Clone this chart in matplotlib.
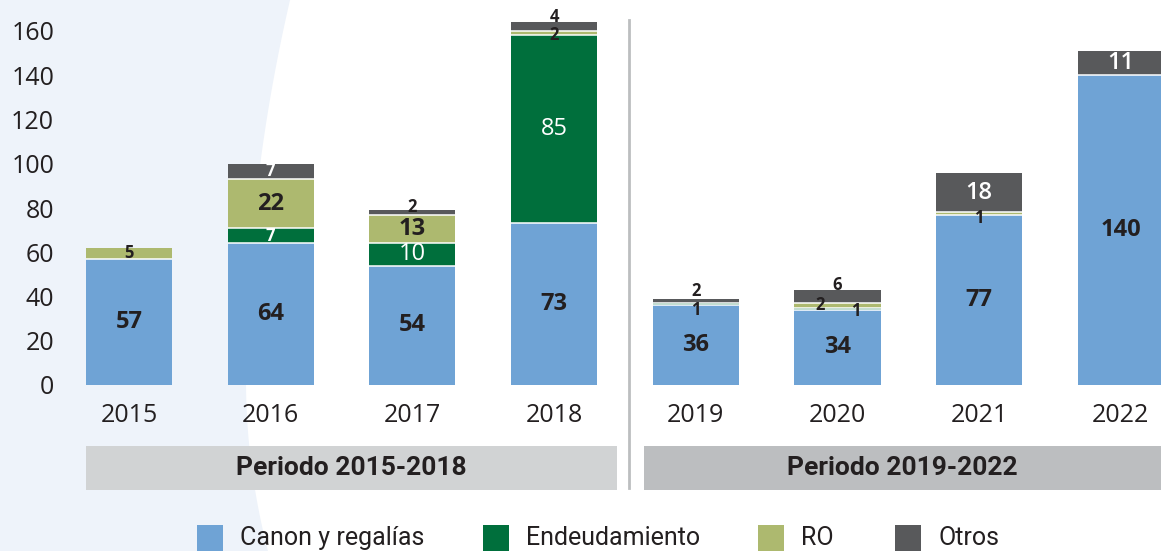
import matplotlib.pyplot as plt
import numpy as np
from matplotlib.patches import Rectangle, Polygon
from matplotlib import font_manager

years = ["2015", "2016", "2017", "2018", "2019", "2020", "2021", "2022"]
canon = [57, 64, 54, 73, 36, 34, 77, 140]
endeud = [0, 7, 10, 85, 1, 1, 0, 0]
ro = [5, 22, 13, 2, 0, 2, 1, 0]
otros = [0, 7, 2, 4, 2, 6, 18, 11]

periods = ["Periodo 2015-2018", "Periodo 2019-2022"]
legend_names = ["Canon y regalías", "Endeudamiento", "RO", "Otros"]
colors = ["#6fa3d5", "#006f3c", "#adb96f", "#58595b"]

# fonts
names = {f.name for f in font_manager.fontManager.ttflist}
narrow = "Liberation Sans Narrow" if "Liberation Sans Narrow" in names else "Roboto"
base = "Open Sans"
dark = "#231f20"

W, H = 1161, 551
fig = plt.figure(figsize=(W / 100, H / 100), dpi=100)

def fx(px):
    return px / W

def fy(py):
    return 1 - py / H

# light blue background on the left, curved edge
yy = np.linspace(0, H, 60)
xx = np.where(yy < 380, 246 + 3.05e-4 * (yy - 380) ** 2, 246 + 7.5e-4 * (yy - 380) ** 2)
pts = [(0, 1)] + [(fx(a), fy(b)) for a, b in zip(xx, yy)] + [(0, 0)]
fig.patches.append(Polygon(pts, closed=True, transform=fig.transFigure,
                           facecolor="#eef3fa", edgecolor="none", zorder=-2))

# axes: bar i centered at pixel 129 + i*141.7, value 0 at y=385, 2.2125 px/unit
step = 141.7
ax = fig.add_axes([0, 166 / H, 1, 385 / H])
ax.set_facecolor("none")
ax.set_xlim(-129 / step, (W - 129) / step)
ax.set_ylim(0, 385 / 2.2125)

width = 0.607
x = np.arange(len(years))
series = [canon, endeud, ro, otros]
bottom = np.zeros(len(years))
bars = []
for vals, col in zip(series, colors):
    vals = np.array(vals)
    ax.bar(x, vals, width, bottom=bottom, color=col, edgecolor="none", zorder=2)
    bars.append((vals, bottom.copy()))
    bottom = bottom + vals

# white gaps between stacked segments
for s in range(1, len(bars)):
    vals, bots = bars[s]
    for i in range(len(years)):
        if vals[i] > 0:
            ax.hlines(bots[i], x[i] - width / 2, x[i] + width / 2, color="white",
                      linewidth=1.1, zorder=3)

# value labels
inside_color = [dark, "white", dark, "white"]
inside_weight = ["bold", "normal", "bold", "semibold"]
# small segments, key (series, year index): (dx px, dy px)
special = {
    (2, 0): (0, 0),      # 2015 RO
    (3, 2): (0, 5),      # 2017 Otros
    (3, 3): (0, 10),     # 2018 Otros
    (2, 3): (0, -2),     # 2018 RO
    (3, 4): (0, 10),     # 2019 Otros
    (1, 4): (0, -6),     # 2019 End
    (3, 5): (0, 11),     # 2020 Otros
    (2, 5): (-17, 0),    # 2020 RO
    (1, 5): (18, -2),    # 2020 End
    (2, 6): (0, -4),     # 2021 RO
}
for s, (vals, bots) in enumerate(bars):
    for i in range(len(years)):
        v = vals[i]
        if v == 0:
            continue
        yc = bots[i] + v / 2
        if (s, i) in special:
            dx, dy = special[(s, i)]
            ax.annotate(str(v), (x[i], yc), xytext=(dx, dy), textcoords="offset pixels",
                        ha="center", va="center", color=dark, fontsize=12,
                        fontweight="bold", family=base, zorder=5)
        else:
            fs = 17 if v >= 9 else 12
            w = inside_weight[s] if v >= 9 else "bold"
            ax.text(x[i], yc, str(v), ha="center", va="center",
                    color=inside_color[s], fontsize=fs,
                    fontweight=w, family=base, zorder=5)

ax.set_xticks(x)
ax.set_xticklabels(years, fontsize=18, color=dark, family=base)
ax.set_yticks(np.arange(0, 161, 20))
ax.set_yticklabels([str(v) for v in range(0, 161, 20)], fontsize=18, color=dark, family=base)
ax.tick_params(axis="y", length=0, pad=-39)
ax.tick_params(axis="x", length=0, pad=13)
for sp in ax.spines.values():
    sp.set_visible(False)

# separator between periods
fig.add_artist(plt.Line2D([fx(629), fx(629)], [fy(20), fy(488)], color="#bcbec0",
                          linewidth=2, transform=fig.transFigure))

# period boxes
boxes = [(86, 617, "#d1d3d4"), (644, 1161, "#bcbec0")]
for (x0, x1, c), lab in zip(boxes, periods):
    fig.patches.append(Rectangle((fx(x0), fy(490)), fx(x1 - x0), 44 / H,
                                 transform=fig.transFigure, facecolor=c,
                                 edgecolor="none", zorder=1))
    fig.text(fx((x0 + x1) / 2), fy(468), lab, ha="center", va="center",
             fontsize=19, fontweight="bold", color=dark, family=narrow)

# legend
leg_x = [197, 483, 758, 895]
for lx, c, lab in zip(leg_x, colors, legend_names):
    fig.patches.append(Rectangle((fx(lx), fy(551)), fx(26), 26 / H,
                                 transform=fig.transFigure, facecolor=c,
                                 edgecolor="none", zorder=1))
    fig.text(fx(lx + 43), fy(538), lab, ha="left", va="center",
             fontsize=18, color=dark, family=narrow)

fig.savefig("out.png", dpi=100)
